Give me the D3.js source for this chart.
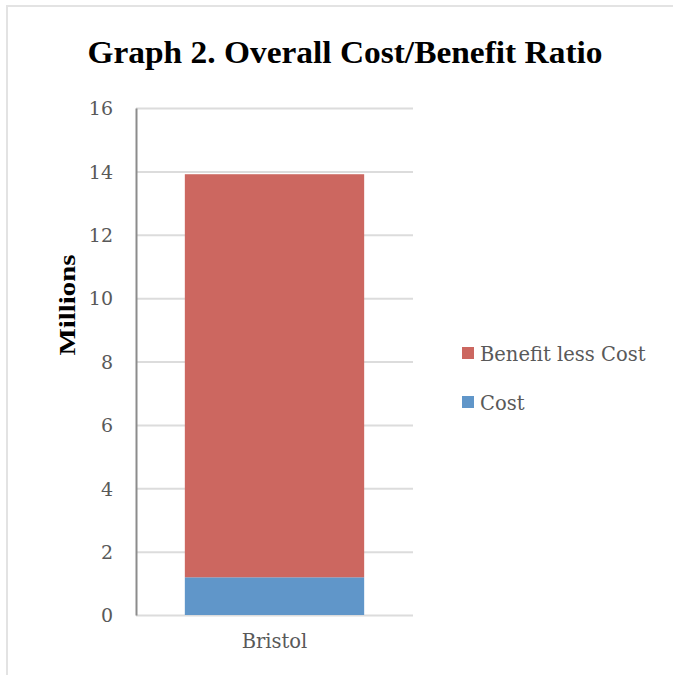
<!DOCTYPE html>
<html><head><meta charset="utf-8">
<script src="https://cdn.jsdelivr.net/npm/d3@7"></script>
<style>body{margin:0;background:#fff}svg{display:block}</style>
</head><body>
<svg id="c" width="673" height="675"></svg>
<script>
const categories = ["Bristol"];
const seriesNames = ["Cost", "Benefit less Cost"];
const costValues = [1.19];
const benefitLessCostValues = [12.72];
const yTicks = [0, 2, 4, 6, 8, 10, 12, 14, 16];
const colors = ["#6096c9", "#cc6760"];

const bodyFont = "'DejaVu Serif', 'Liberation Serif', serif";
const titleFont = "'Liberation Serif', 'DejaVu Serif', serif";

const svg = d3.select("#c");
// outer frame (light gray)
svg.append("line").attr("x1",6).attr("x2",673).attr("y1",6).attr("y2",6).attr("stroke","#e3e3e3").attr("stroke-width",2);
svg.append("line").attr("x1",7).attr("x2",7).attr("y1",6).attr("y2",675).attr("stroke","#e3e3e3").attr("stroke-width",2);

const m = {left:136, right:413, top:108, bottom:615};
const y = d3.scaleLinear().domain([0,16]).range([m.bottom, m.top]);
const x = d3.scaleBand().domain(categories).range([m.left, m.right]).paddingInner(0.35).paddingOuter(0.177);

// gridlines
svg.append("g").selectAll("line").data(yTicks).join("line")
  .attr("x1", m.left).attr("x2", m.right)
  .attr("y1", d=>y(d)+0.5).attr("y2", d=>y(d)+0.5)
  .attr("stroke","#dcdcdc").attr("stroke-width",2);

// stacked bars
const rows = categories.map((c,i)=>({cat:c, "Cost":costValues[i], "Benefit less Cost":benefitLessCostValues[i]}));
const stack = d3.stack().keys(seriesNames)(rows);
svg.append("g").selectAll("g").data(stack).join("g")
  .attr("fill",(d,i)=>colors[i])
  .selectAll("rect").data(d=>d).join("rect")
  .attr("x", d=>x(d.data.cat)).attr("width", x.bandwidth())
  .attr("y", d=>y(d[1])).attr("height", d=>y(d[0])-y(d[1]));

// y axis
const yAxis = d3.axisLeft(y).tickValues(yTicks).tickSize(0).tickPadding(23).tickFormat(d3.format("d"));
const ga = svg.append("g").attr("transform",`translate(${m.left},0)`).call(yAxis);
ga.select(".domain").attr("stroke","#8c8c8c").attr("stroke-width",2);
ga.selectAll("text").attr("font-family",bodyFont).attr("font-size",19).attr("fill","#595959").attr("dy","0.36em");

// x axis labels
const xAxis = d3.axisBottom(x).tickSize(0).tickPadding(19);
const gx = svg.append("g").attr("transform",`translate(0,${m.bottom})`).call(xAxis);
gx.select(".domain").remove();
gx.selectAll("text").attr("font-family",bodyFont).attr("font-size",19.5).attr("fill","#595959");

// title
svg.append("text").attr("x",345).attr("y",63).attr("text-anchor","middle")
  .attr("font-family",titleFont).attr("font-weight","bold")
  .attr("font-size",31).attr("fill","#000").attr("textLength",515).attr("lengthAdjust","spacingAndGlyphs")
  .text("Graph 2. Overall Cost/Benefit Ratio");

// y axis title
svg.append("text").attr("transform","translate(75,305) rotate(-90)").attr("text-anchor","middle")
  .attr("font-family",titleFont).attr("font-weight","bold")
  .attr("font-size",24).attr("fill","#000").attr("textLength",101).attr("lengthAdjust","spacingAndGlyphs")
  .text("Millions");

// legend
const legendItems = [seriesNames[1], seriesNames[0]];
const legendColors = [colors[1], colors[0]];
const lg = svg.append("g").selectAll("g").data(legendItems).join("g")
  .attr("transform",(d,i)=>`translate(462,${347+i*49})`);
lg.append("rect").attr("width",12).attr("height",12).attr("fill",(d,i)=>legendColors[i]);
lg.append("text").attr("x",18).attr("y",14)
  .attr("font-family",bodyFont).attr("font-size",19.5).attr("fill","#595959")
  .text(d=>d);
</script>
</body></html>
